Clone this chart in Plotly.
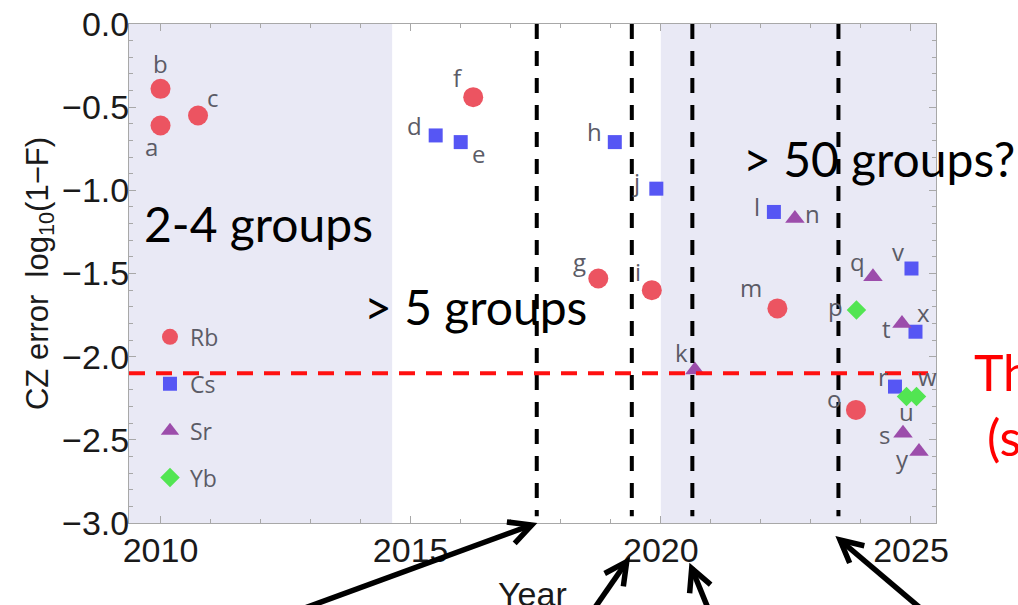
import math
import plotly.graph_objects as go

# ---- data: CZ gate error (log10(1-F)) by year and atomic species ----
rb_labels = ["a", "b", "c", "f", "g", "i", "m", "o"]
rb_year = [2010.0, 2010.0, 2010.75, 2016.25, 2018.75, 2019.82, 2022.33, 2023.9]
rb_err = [-0.61, -0.39, -0.55, -0.44, -1.53, -1.60, -1.71, -2.32]

cs_labels = ["d", "e", "h", "j", "l", "r", "v", "x"]
cs_year = [2015.5, 2016.0, 2019.08, 2019.91, 2022.26, 2024.68, 2025.01, 2025.09]
cs_err = [-0.67, -0.71, -0.71, -0.99, -1.13, -2.18, -1.47, -1.85]

sr_labels = ["k", "n", "q", "s", "t", "y"]
sr_year = [2020.68, 2022.68, 2024.24, 2024.84, 2024.82, 2025.16]
sr_err = [-2.08, -1.17, -1.52, -2.46, -1.80, -2.57]

yb_labels = ["p", "u", "w"]
yb_year = [2023.91, 2024.91, 2025.11]
yb_err = [-1.72, -2.24, -2.24]

threshold = -2.1
era_lines = [2017.52, 2019.42, 2020.63, 2023.55]
shaded_eras = [(2009.37, 2014.63), (2020.0, 2025.5)]

# label offsets in pixels (dx right, dy down) around each marker
label_offset = {
    "a": (-9, 21), "b": (0, -25), "c": (15, -18),
    "d": (-21, -10), "e": (18, 11), "f": (-15, -20),
    "g": (-19, -17), "h": (-20, -11), "i": (-14, -19), "j": (-20, -7),
    "k": (-13, -17), "l": (-17, -5), "n": (18, -5), "m": (-26, -21),
    "q": (-15, -15), "v": (-13, -17), "p": (-21, -4), "t": (-15, 5),
    "x": (8, -19), "r": (-12, -10), "w": (11, -20), "u": (0, 15),
    "o": (-22, -11), "s": (-18, 1), "y": (-16, 7),
}

W, H = 1018, 605
M_L, M_R, M_T, M_B = 129, 82, 24, 82
PW, PH = W - M_L - M_R, H - M_T - M_B
X_RANGE = [2009.37, 2025.5]
Y_RANGE = [-3.0, 0.0]

species = [
    ("Rb", rb_year, rb_err, rb_labels, "circle", 20, "#EC5461"),
    ("Cs", cs_year, cs_err, cs_labels, "square", 14, "#5656F4"),
    ("Sr", sr_year, sr_err, sr_labels, "triangle-up", 17, "#9C4DAB"),
    ("Yb", yb_year, yb_err, yb_labels, "diamond", 15, "#52E552"),
]

fig = go.Figure()
annotations = []
for name, xs, ys, labs, sym, size, col in species:
    fig.add_trace(go.Scatter(
        x=xs, y=ys, mode="markers", name=name, legendgroup=name,
        marker=dict(symbol=sym, size=size, color=col, line=dict(width=0)),
    ))
    for xv, yv, lab in zip(xs, ys, labs):
        dx, dy = label_offset[lab]
        annotations.append(dict(
            x=xv, y=yv, xref="x", yref="y", text=lab, showarrow=False,
            xshift=dx, yshift=-dy, xanchor="center", yanchor="middle",
            font=dict(family="Open Sans", size=24, color="#5b5b66"),
        ))


def to_paper(px, py):
    return (px - M_L) / PW, (M_T + PH - py) / PH


# era captions
big = dict(family="Lato", size=48, color="black")
annotations += [
    dict(x=2011.95, y=-1.20, xref="x", yref="y", text="2-4 groups",
         showarrow=False, font=big),
    dict(x=2016.30, y=-1.70, xref="x", yref="y", text="&gt; 5 groups",
         showarrow=False, font=big),
    dict(x=2024.36, y=-0.81, xref="x", yref="y", text="&gt; 50 groups?",
         showarrow=False, font=big),
]
# threshold caption sits to the right of the frame
red = dict(family="Lato", size=50, color="red")
tx1, ty1 = to_paper(972.0, 372.0)
tx2, ty2 = to_paper(985.0, 437.0)
annotations += [
    dict(x=tx1, y=ty1, xref="paper", yref="paper", text="Threshold",
         showarrow=False, xanchor="left", yanchor="middle", font=red),
    dict(x=tx2, y=ty2, xref="paper", yref="paper", text="(surface code)",
         showarrow=False, xanchor="left", yanchor="middle", font=red),
]
# x-axis title, placed low so it runs off the bottom edge
yx, yy = to_paper(532.5, 594.0)
annotations.append(dict(x=0.5, y=yy, xref="paper", yref="paper", text="Year",
                        showarrow=False, xanchor="center", yanchor="middle",
                        font=dict(family="Liberation Sans", size=34, color="#1a1a1a")))

shapes = []
for x0, x1 in shaded_eras:
    shapes.append(dict(type="rect", xref="x", yref="paper", x0=x0, x1=x1, y0=0, y1=1,
                       fillcolor="#E9E9F5", line=dict(width=0), layer="below"))
for xv in era_lines:
    shapes.append(dict(type="line", xref="x", yref="y", x0=xv, x1=xv, y0=0, y1=-2.96,
                       line=dict(color="black", width=4, dash="15px,12px")))
shapes.append(dict(type="line", xref="x", yref="y", x0=X_RANGE[0], x1=2025.45,
                   y0=threshold, y1=threshold,
                   line=dict(color="#FF1010", width=4, dash="16px,11px")))

# arrows pointing at the era boundaries (pixel tip, pixel direction toward the tail)
arrows = [((531.7, 525.0), (-218.7, 80.0)),
          ((626.7, 561.7), (-30.0, 43.3)),
          ((691.7, 568.3), (15.0, 36.7)),
          ((840.0, 540.0), (76.7, 65.0))]
for (tx, ty), (dx, dy) in arrows:
    n = math.hypot(dx, dy)
    ux, uy = dx / n, dy / n
    tail = (tx + ux * 260, ty + uy * 260)
    arms = []
    for ang in (math.radians(27), -math.radians(27)):
        c, s = math.cos(ang), math.sin(ang)
        ax = ux * c - uy * s
        ay = ux * s + uy * c
        arms.append((tx + ax * 25, ty + ay * 25))
    p_tip = to_paper(tx, ty)
    p_tail = to_paper(*tail)
    p_a1 = to_paper(*arms[0])
    p_a2 = to_paper(*arms[1])
    shapes.append(dict(type="path", xref="paper", yref="paper",
                       path=f"M{p_tail[0]},{p_tail[1]} L{p_tip[0]},{p_tip[1]}",
                       line=dict(color="black", width=5.5)))
    shapes.append(dict(type="path", xref="paper", yref="paper",
                       path=f"M{p_a1[0]},{p_a1[1]} L{p_tip[0]},{p_tip[1]} L{p_a2[0]},{p_a2[1]}",
                       line=dict(color="black", width=5.5)))

tickfont = dict(family="Liberation Sans", size=34, color="#1a1a1a")
fig.update_layout(
    width=W, height=H,
    margin=dict(l=M_L, r=M_R, t=M_T, b=M_B, autoexpand=False),
    paper_bgcolor="white", plot_bgcolor="white",
    shapes=shapes, annotations=annotations,
    showlegend=True,
    legend=dict(x=0.026, y=0.416, xanchor="left", yanchor="top",
                bgcolor="rgba(0,0,0,0)", tracegroupgap=14,
                font=dict(family="Open Sans", size=23, color="#5b5b66")),
    xaxis=dict(range=X_RANGE, tickvals=[2010, 2015, 2020, 2025], showgrid=False,
               zeroline=False, showline=True, linecolor="#a8a8a8", linewidth=1,
               mirror="allticks", ticks="inside", ticklen=7, tickcolor="#a8a8a8",
               minor=dict(dtick=1, tick0=2010, ticks="inside", ticklen=4, tickcolor="#a8a8a8",
                          showgrid=False),
               tickfont=tickfont, ticklabelstandoff=-3),
    yaxis=dict(range=Y_RANGE, dtick=0.5, tickformat=".1f", showgrid=False,
               zeroline=False, showline=True, linecolor="#a8a8a8", linewidth=1,
               mirror="allticks", ticks="inside", ticklen=7, tickcolor="#a8a8a8",
               minor=dict(dtick=0.1, ticks="inside", ticklen=4, tickcolor="#a8a8a8",
                          showgrid=False),
               tickfont=tickfont, ticklabelstandoff=-8,
               title=dict(text="CZ error  log<sub>10</sub>(1\u2212F)",
                          font=dict(family="Liberation Sans", size=31, color="#1a1a1a"),
                          standoff=4)),
)

fig.write_html("out.html")
